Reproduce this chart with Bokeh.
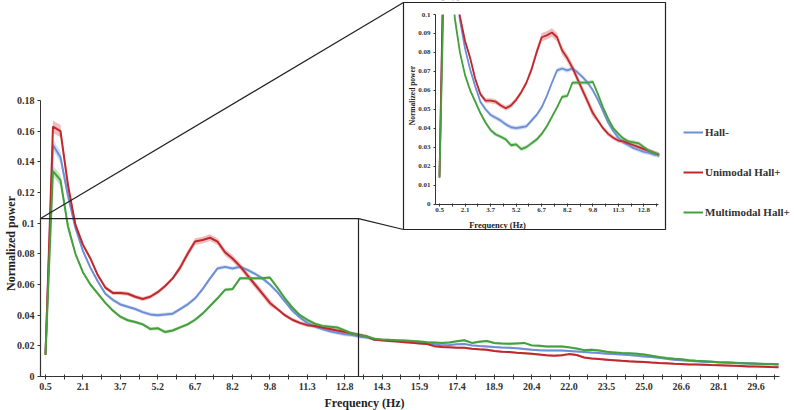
from math import pi
from bokeh.plotting import figure
from bokeh.models import (Range1d, LinearAxis, FixedTicker, CustomJSTickFormatter,
                          Label, Legend, LegendItem)
from bokeh.embed import file_html
from bokeh.resources import INLINE

# ---------------- data ----------------
# x-axis tick labels (Hz), one every 5 frequency bins
TICK_LABELS = ["0.5", "2.1", "3.7", "5.2", "6.7", "8.2", "9.8", "11.3", "12.8", "14.3",
               "15.9", "17.4", "18.9", "20.4", "22.0", "23.5", "25.0", "26.6", "28.1", "29.6"]
BINS_PER_LABEL = 5
Y_TICKS_MAIN = [0, 0.02, 0.04, 0.06, 0.08, 0.1, 0.12, 0.14, 0.16, 0.18]
Y_TICKS_INSET = [0, 0.01, 0.02, 0.03, 0.04, 0.05, 0.06, 0.07, 0.08, 0.09, 0.1]
N_INSET_BINS = 44

SERIES_NAMES = ["Hall-", "Unimodal Hall+", "Multimodal Hall+"]

HALL_MINUS = [
    0.015, 0.151, 0.143, 0.118, 0.097, 0.082, 0.071, 0.062, 0.054, 0.050,
    0.047, 0.0455, 0.044, 0.042, 0.0405, 0.040, 0.0405, 0.041, 0.044, 0.047,
    0.051, 0.057, 0.064, 0.0705, 0.0715, 0.0705, 0.0715, 0.0695, 0.067, 0.064,
    0.060, 0.055, 0.049, 0.043, 0.0385, 0.035, 0.0325, 0.031, 0.0295, 0.0285,
    0.0275, 0.027, 0.026, 0.0255,
    0.0240, 0.0237, 0.0235, 0.0231, 0.0228, 0.0224, 0.0220, 0.0217, 0.0210, 0.0203,
    0.0205, 0.0210, 0.0212, 0.0203, 0.0199, 0.0196, 0.0192, 0.0189, 0.0187, 0.0184,
    0.0180, 0.0175, 0.0172, 0.0170, 0.0170, 0.0169, 0.0166, 0.0163, 0.0160, 0.0156,
    0.0153, 0.0149, 0.0146, 0.0143, 0.0140, 0.0135, 0.0131, 0.0127, 0.0122, 0.0116,
    0.0110, 0.0106, 0.0102, 0.0099, 0.0097, 0.0096, 0.0093, 0.0091, 0.0089, 0.0088,
    0.0086, 0.0084, 0.0082, 0.0080, 0.0078]

UNIMODAL = [
    0.014, 0.163, 0.160, 0.125, 0.099, 0.086, 0.077, 0.066, 0.058, 0.0545,
    0.0545, 0.054, 0.052, 0.0505, 0.052, 0.055, 0.059, 0.064, 0.071, 0.080,
    0.088, 0.089, 0.0905, 0.088, 0.081, 0.077, 0.072, 0.066, 0.060, 0.054,
    0.048, 0.044, 0.040, 0.037, 0.035, 0.0335, 0.033, 0.032, 0.031, 0.030,
    0.029, 0.028, 0.027, 0.026,
    0.0240, 0.0236, 0.0231, 0.0228, 0.0224, 0.0220, 0.0216, 0.0212, 0.0198, 0.0192,
    0.0190, 0.0188, 0.0187, 0.0181, 0.0177, 0.0174, 0.0167, 0.0162, 0.0159, 0.0155,
    0.0152, 0.0148, 0.0143, 0.0138, 0.0136, 0.0138, 0.0146, 0.0140, 0.0124, 0.0118,
    0.0114, 0.0110, 0.0106, 0.0102, 0.0099, 0.0097, 0.0095, 0.0091, 0.0088, 0.0086,
    0.0083, 0.0081, 0.0079, 0.0078, 0.0077, 0.0075, 0.0074, 0.0072, 0.0070, 0.0068,
    0.0066, 0.0065, 0.0064, 0.0062, 0.0061]

MULTIMODAL = [
    0.014, 0.134, 0.128, 0.098, 0.080, 0.068, 0.060, 0.054, 0.048, 0.043,
    0.039, 0.0367, 0.0355, 0.034, 0.031, 0.0315, 0.029, 0.030, 0.032, 0.034,
    0.037, 0.041, 0.046, 0.051, 0.0565, 0.057, 0.064, 0.064, 0.064, 0.064,
    0.0645, 0.058, 0.051, 0.045, 0.040, 0.037, 0.0345, 0.033, 0.0325, 0.032,
    0.030, 0.028, 0.027, 0.026,
    0.0246, 0.0242, 0.0239, 0.0237, 0.0235, 0.0232, 0.0228, 0.0224, 0.0221, 0.0218,
    0.0222, 0.0230, 0.0236, 0.0219, 0.0226, 0.0232, 0.0219, 0.0215, 0.0213, 0.0216,
    0.0219, 0.0203, 0.0200, 0.0196, 0.0195, 0.0195, 0.0190, 0.0182, 0.0172, 0.0175,
    0.0170, 0.0161, 0.0157, 0.0153, 0.0151, 0.0148, 0.0144, 0.0136, 0.0127, 0.0121,
    0.0116, 0.0112, 0.0106, 0.0102, 0.0099, 0.0096, 0.0093, 0.0091, 0.0089, 0.0087,
    0.0085, 0.0083, 0.0082, 0.0081, 0.0080]

# standard error half-widths (shaded bands)
SEM_HALL_MINUS = [0.0035] * 4 + [0.0012] * 40 + [0.0007] * 55
SEM_UNIMODAL = [0.004] * 4 + [0.0013] * 14 + [0.0022] * 13 + [0.0012] * 13 + [0.0007] * 55
SEM_MULTIMODAL = [0.0035] * 4 + [0.0011] * 40 + [0.0008] * 55

COLORS = ["#6d8fd6", "#c0282c", "#44a03c"]

N = len(HALL_MINUS)
assert len(UNIMODAL) == N and len(MULTIMODAL) == N
BINS = list(range(N))

# ---------------- layout anchors (canvas pixels) ----------------
W, H = 794, 410
MAIN_X0, MAIN_XS = 45.0, 7.48      # px of bin 0, px per bin
MAIN_Y0, MAIN_YS = 376.0, 1533.3   # px of value 0, px per unit
INS_X0, INS_XS = 439.0, 5.11
INS_Y0, INS_YS = 203.5, 1895.0


def mx(px): return (px - MAIN_X0) / MAIN_XS
def my(py): return (MAIN_Y0 - py) / MAIN_YS
def ix(px): return (px - INS_X0) / INS_XS
def iy(py): return (INS_Y0 - py) / INS_YS


FONT = "Liberation Serif"
AX_COLOR = "#333333"

p = figure(width=W, height=H, output_backend="svg", toolbar_location=None, title=None,
           x_range=Range1d(mx(0), mx(W)), y_range=Range1d(my(H), my(0)),
           x_axis_type=None, y_axis_type=None, min_border=0, outline_line_color=None,
           background_fill_color="white", border_fill_color="white")
p.extra_x_ranges = {"ix": Range1d(ix(0), ix(W))}
p.extra_y_ranges = {"iy": Range1d(iy(H), iy(0))}

series = list(zip(SERIES_NAMES, [HALL_MINUS, UNIMODAL, MULTIMODAL],
                  [SEM_HALL_MINUS, SEM_UNIMODAL, SEM_MULTIMODAL], COLORS))

# ---------------- main plot ----------------
for name, vals, sem, col in series:
    p.varea(x=BINS, y1=[v - s for v, s in zip(vals, sem)], y2=[v + s for v, s in zip(vals, sem)],
            fill_color=col, fill_alpha=0.3)
main_lines = []
for name, vals, sem, col in series:
    main_lines.append(p.line(BINS, vals, line_color=col, line_width=2))

# zoom rectangle on main plot + connectors to the inset
AXIS_PX = 40
BOX_TOP = 0.103
BOX_RIGHT_PX = 358
IL, IR, IT, IB = 403, 665, 2, 229   # inset box, canvas px
p.quad(left=mx(AXIS_PX), right=mx(BOX_RIGHT_PX), bottom=0, top=BOX_TOP,
       fill_alpha=0, line_color="#222222", line_width=1.2)
p.segment(x0=[mx(AXIS_PX), mx(BOX_RIGHT_PX)], y0=[BOX_TOP, BOX_TOP],
          x1=[mx(IL), mx(IL)], y1=[my(IT), my(IB)],
          line_color="#222222", line_width=1.2)

# main axes
major = [j * BINS_PER_LABEL for j in range(len(TICK_LABELS))]
minor = [m + BINS_PER_LABEL / 2 for m in major]
fmt_code = 'return tick.toFixed(2).replace(/\\.?0+$/, "")'
xaxis = LinearAxis(fixed_location=0, bounds=(mx(AXIS_PX), mx(779)),
                   ticker=FixedTicker(ticks=major, minor_ticks=minor),
                   major_label_overrides={m: t for m, t in zip(major, TICK_LABELS)})
yaxis = LinearAxis(fixed_location=mx(AXIS_PX), bounds=(0, Y_TICKS_MAIN[-1]),
                   ticker=FixedTicker(ticks=Y_TICKS_MAIN, minor_ticks=[]),
                   formatter=CustomJSTickFormatter(code=fmt_code))


def style_axis(ax, size, t_in, t_out, standoff):
    ax.axis_line_color = AX_COLOR
    ax.axis_line_width = 1
    ax.major_tick_line_color = AX_COLOR
    ax.minor_tick_line_color = AX_COLOR
    ax.major_tick_in = t_in
    ax.major_tick_out = t_out
    ax.minor_tick_in = t_in
    ax.minor_tick_out = t_out
    ax.major_label_text_font = FONT
    ax.major_label_text_font_style = "bold"
    ax.major_label_text_font_size = size
    ax.major_label_text_color = AX_COLOR
    ax.major_label_standoff = standoff


style_axis(xaxis, "10px", 2, 3, 3)
style_axis(yaxis, "10px", 0, 3, 3)
p.add_layout(xaxis, "below")
p.add_layout(yaxis, "left")

p.add_layout(Label(x=mx(364), y=my(402), text="Frequency (Hz)", text_align="center",
                   text_baseline="middle", text_font=FONT, text_font_style="bold",
                   text_font_size="12px", text_color="#222222"))
p.add_layout(Label(x=mx(10), y=my(243), text="Normalized power", angle=pi / 2,
                   text_align="center", text_baseline="middle", text_font=FONT,
                   text_font_style="bold", text_font_size="12px", text_color="#222222"))

# ---------------- inset ----------------
p.quad(left=ix(IL), right=ix(IR), bottom=iy(IB), top=iy(IT), fill_color="white",
       line_color=None, x_range_name="ix", y_range_name="iy")
ibins = BINS[:N_INSET_BINS]
for name, vals, sem, col in series:
    v = vals[:N_INSET_BINS]
    s = sem[:N_INSET_BINS]
    p.varea(x=ibins, y1=[a - b for a, b in zip(v, s)], y2=[a + b for a, b in zip(v, s)],
            fill_color=col, fill_alpha=0.3, x_range_name="ix", y_range_name="iy")
for name, vals, sem, col in series:
    p.line(ibins, vals[:N_INSET_BINS], line_color=col, line_width=1.8,
           x_range_name="ix", y_range_name="iy")
# hide the part of the curves above the inset's y range (up to the canvas top)
p.quad(left=ix(IL + 1), right=ix(IR - 1), bottom=Y_TICKS_INSET[-1], top=iy(-20),
       fill_color="white", line_color=None, x_range_name="ix", y_range_name="iy")
p.quad(left=ix(IL), right=ix(IR), bottom=iy(IB), top=iy(IT), fill_alpha=0,
       line_color="#222222", line_width=1.2, x_range_name="ix", y_range_name="iy")

IAXIS_PX = 435
imajor = [m for m in major if m < N_INSET_BINS - 3]
iminor = [m + BINS_PER_LABEL / 2 for m in imajor]
ixaxis = LinearAxis(x_range_name="ix", y_range_name="iy", fixed_location=0,
                    bounds=(ix(IAXIS_PX), ix(658)),
                    ticker=FixedTicker(ticks=imajor, minor_ticks=iminor),
                    major_label_overrides={m: t for m, t in zip(imajor, TICK_LABELS)})
iyaxis = LinearAxis(x_range_name="ix", y_range_name="iy", fixed_location=ix(IAXIS_PX),
                    bounds=(0, Y_TICKS_INSET[-1]),
                    ticker=FixedTicker(ticks=Y_TICKS_INSET, minor_ticks=[]),
                    formatter=CustomJSTickFormatter(code=fmt_code))
style_axis(ixaxis, "7px", 1, 2, 2)
style_axis(iyaxis, "7px", 0, 2, 3)
p.add_layout(ixaxis, "below")
p.add_layout(iyaxis, "left")

p.add_layout(Label(x=ix(497), y=iy(224), text="Frequency (Hz)", text_align="center",
                   text_baseline="middle", text_font=FONT, text_font_style="bold",
                   text_font_size="8.5px", text_color="#222222",
                   x_range_name="ix", y_range_name="iy"))
p.add_layout(Label(x=ix(412), y=iy(95), text="Normalized power", angle=pi / 2,
                   text_align="center", text_baseline="middle", text_font=FONT,
                   text_font_style="bold", text_font_size="7.5px", text_color="#222222",
                   x_range_name="ix", y_range_name="iy"))

# ---------------- legend ----------------
legend = Legend(items=[LegendItem(label=n, renderers=[r]) for n, r in zip(SERIES_NAMES, main_lines)],
                location=(683, 188), orientation="vertical",
                glyph_width=20, glyph_height=20, label_height=20, label_standoff=2,
                spacing=20, padding=0, margin=0,
                border_line_alpha=0, background_fill_alpha=0,
                label_text_font=FONT, label_text_font_style="bold",
                label_text_font_size="11px", label_text_color="#333333")
p.add_layout(legend)

open("out.html", "w").write(file_html(p, INLINE))
